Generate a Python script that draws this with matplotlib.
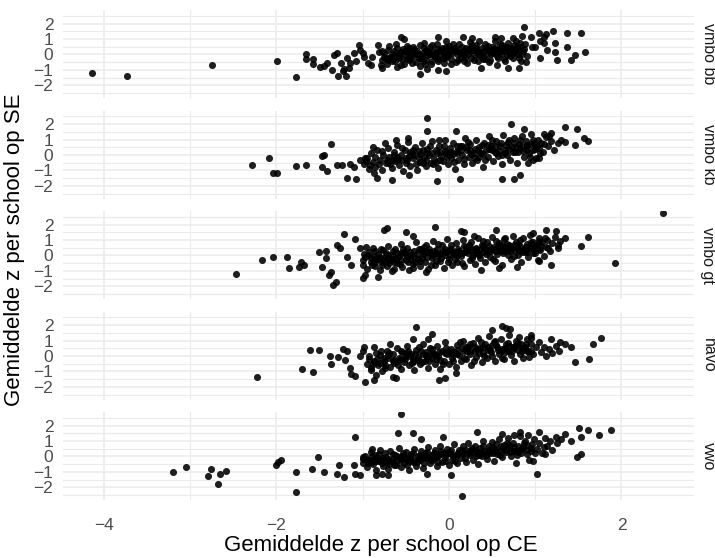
import matplotlib
matplotlib.use("Agg")
import matplotlib.pyplot as plt

plt.rcParams['font.family'] = ['Liberation Sans', 'DejaVu Sans']

facets = ['vmbo bb', 'vmbo kb', 'vmbo gt', 'havo', 'vwo']

# gemiddelde z per school: (CE, SE)
vmbo_bb = [
    (-4.13, -1.2), (-3.73, -1.41), (-2.74, -0.7), (-1.99, -0.42), (-1.77, -1.47),
    (-1.65, 0.0), (-1.65, -0.31), (-1.57, -0.31), (-1.57, -0.61), (-1.49, -0.83),
    (-1.45, -0.72), (-1.41, -0.57), (-1.35, -1.0), (-1.33, -0.03), (-1.3, 0.08),
    (-1.28, -1.39), (-1.25, -0.53), (-1.23, -1.04), (-1.21, -0.95), (-1.19, -1.39),
    (-1.18, -0.25), (-1.16, -0.89), (-1.14, -0.57), (-1.1, 0.08), (-1.08, -0.42),
    (-1.04, 0.6), (-1.03, 0.29), (-1.0, 0.08), (-0.98, -0.14), (-0.94, -0.57),
    (-0.9, -0.68), (-0.89, -0.14), (-0.82, 0.6), (-0.81, 0.18), (-0.79, -0.68),
    (-0.78, -0.89), (-0.75, -0.14), (-0.71, -0.36), (-0.67, -0.14), (-0.61, 0.7),
    (-0.6, -0.78), (-0.55, 1.13), (-0.52, 0.98), (-0.34, -1.26), (-0.29, 0.72),
    (-0.25, -0.97), (-0.13, -1.0), (-0.12, 1.14), (-0.03, 0.84), (-0.03, -1.07),
    (0.16, 1.14), (0.27, 1.04), (0.37, -0.89), (0.53, 1.14), (0.56, -0.68),
    (0.6, 1.04), (0.68, -0.89), (0.74, 1.04), (0.87, 1.79), (0.85, 1.21),
    (0.95, 1.14), (0.81, -0.89), (0.89, -0.46), (0.96, 0.5), (1.0, 0.5),
    (1.04, 1.37), (1.06, 0.84), (1.06, -0.25), (1.1, 1.14), (1.1, 0.72),
    (1.13, 1.31), (1.14, 0.29), (1.21, 1.5), (1.23, 0.72), (1.23, 0.18),
    (1.25, -0.36), (1.37, 1.4), (1.37, 0.5), (1.41, -0.36), (1.46, -0.03),
    (1.53, 1.4), (1.58, 0.18),
    (-0.78, -0.35), (-0.75, 0.1), (-0.72, -0.6), (-0.7, 0.3), (-0.68, -0.15),
    (-0.65, 0.05), (-0.62, -0.45), (-0.6, 0.4), (-0.58, -0.2), (-0.55, 0.15),
    (-0.52, -0.65), (-0.5, -0.05), (-0.48, 0.55), (-0.46, -0.35), (-0.44, 0.2),
    (-0.42, -0.1), (-0.4, 0.35), (-0.38, -0.5), (-0.36, 0.0), (-0.34, 0.6),
    (-0.32, -0.25), (-0.3, 0.1), (-0.28, -0.6), (-0.26, 0.3), (-0.24, -0.05),
    (-0.22, 0.5), (-0.2, -0.4), (-0.18, 0.15), (-0.16, -0.15), (-0.14, 0.7),
    (-0.12, -0.3), (-0.1, 0.05), (-0.08, 0.4), (-0.06, -0.55), (-0.04, 0.2),
    (-0.02, -0.1), (0.0, 0.55), (0.02, -0.3), (0.04, 0.1), (0.06, 0.35),
    (0.08, -0.5), (0.1, 0.0), (0.12, 0.65), (0.14, -0.2), (0.16, 0.25),
    (0.18, -0.4), (0.2, 0.45), (0.22, 0.05), (0.24, 0.8), (0.26, -0.25),
    (0.28, 0.3), (0.3, -0.05), (0.32, 0.6), (0.34, -0.45), (0.36, 0.15),
    (0.38, 0.4), (0.4, -0.15), (0.42, 0.7), (0.44, 0.05), (0.46, 0.3),
    (0.48, -0.35), (0.5, 0.5), (0.52, 0.15), (0.54, 0.85), (0.56, -0.1),
    (0.58, 0.35), (0.6, 0.0), (0.62, 0.6), (0.64, -0.3), (0.66, 0.25),
    (0.68, 0.75), (0.7, 0.1), (0.72, 0.45), (0.74, -0.2), (0.76, 0.3),
    (0.78, 0.9), (0.8, 0.05), (0.82, 0.5), (0.84, -0.4), (0.86, 0.2), (0.88, 0.65),
    (-0.77, 0.2), (-0.73, -0.25), (-0.69, 0.55), (-0.66, -0.4), (-0.63, 0.25),
    (-0.59, -0.05), (-0.56, -0.7), (-0.53, 0.35), (-0.49, -0.3), (-0.47, 0.1),
    (-0.43, -0.55), (-0.41, 0.5), (-0.37, 0.2), (-0.35, -0.2), (-0.33, -0.75),
    (-0.29, 0.45), (-0.27, -0.35), (-0.23, 0.15), (-0.21, -0.6), (-0.19, 0.6),
    (-0.15, 0.1), (-0.13, -0.45), (-0.09, 0.3), (-0.07, -0.2), (-0.03, 0.5),
    (-0.01, 0.0), (0.03, -0.6), (0.05, 0.7), (0.09, 0.2), (0.11, -0.35),
    (0.15, 0.5), (0.17, -0.05), (0.21, -0.55), (0.23, 0.35), (0.27, 0.6),
    (0.29, -0.35), (0.33, 0.2), (0.35, 0.9), (0.39, -0.3), (0.41, 0.25),
    (0.45, 0.55), (0.47, -0.5), (0.51, 0.1), (0.53, 0.4), (0.57, -0.25),
    (0.59, 0.7), (0.63, 0.2), (0.65, -0.45), (0.69, 0.45), (0.71, -0.1),
    (0.75, 0.6), (0.77, 0.15), (0.81, -0.2), (0.83, 0.75), (0.87, 0.35), (0.9, -0.1),
    (-0.57, 0.0), (-0.51, 0.25), (-0.45, -0.2), (-0.39, 0.1), (-0.31, -0.1),
    (-0.25, 0.15), (-0.17, -0.05), (-0.11, 0.25), (-0.05, -0.25), (0.01, 0.15),
    (0.07, 0.45), (0.13, 0.1), (0.19, -0.15), (0.25, 0.2), (0.31, 0.4),
    (0.37, -0.1), (0.43, 0.4), (0.49, 0.05), (0.55, 0.3), (0.61, 0.45),
    (0.67, -0.05), (0.73, 0.25), (0.79, 0.5), (0.85, 0.0), (-0.62, -0.2),
    (-0.54, -0.3), (-0.46, 0.4), (-0.38, 0.0), (-0.3, -0.4), (-0.22, 0.05),
    (-0.14, 0.35), (-0.06, 0.1), (0.02, 0.35), (0.1, 0.25), (0.18, 0.05),
    (0.26, 0.5), (0.34, 0.05), (0.42, -0.3), (0.5, 0.3), (0.58, 0.15),
    (0.66, 0.5), (0.74, 0.1), (0.82, 0.3),
]

vmbo_kb = [
    (-2.28, -0.63), (-2.08, -0.2), (-2.04, -1.15), (-1.99, -1.15), (-1.77, -0.74),
    (-1.65, -0.63), (-1.47, -0.09), (-1.45, 0.02), (-1.47, -0.8), (-1.41, -1.02),
    (-1.37, 0.72), (-1.29, -0.63), (-1.24, -0.63), (-1.18, -1.46), (-1.14, -0.59),
    (-1.1, -0.8), (-1.08, -1.54), (-1.03, -0.3), (-0.97, -0.2), (-0.88, 0.5),
    (-0.87, -1.17), (-0.83, -1.5), (-0.74, 0.78), (-0.66, -1.61), (-0.61, 1.0),
    (-0.47, 1.1), (-0.46, -1.33), (-0.25, 2.41), (-0.25, 1.54), (-0.14, -1.67),
    (-0.11, 1.0), (0.08, 1.54), (0.13, -1.54), (0.61, -1.54), (0.72, 1.98),
    (0.76, -1.54), (0.82, -1.28), (0.87, 1.65), (0.92, -0.52), (0.97, -0.3),
    (1.05, -0.2), (1.1, 1.33), (1.16, 1.22), (1.18, 1.43), (1.34, 1.8),
    (1.35, 0.85), (1.46, 0.67), (1.49, 1.65), (1.56, 1.11), (1.61, 0.93),
    (-0.98, -0.6), (-0.95, -0.2), (-0.93, -0.9), (-0.9, 0.1), (-0.88, -0.45),
    (-0.85, -0.75), (-0.83, 0.3), (-0.8, -0.3), (-0.78, -1.0), (-0.76, 0.0),
    (-0.73, -0.55), (-0.71, 0.45), (-0.69, -0.15), (-0.66, -0.85), (-0.64, 0.2),
    (-0.62, -0.4), (-0.6, 0.65), (-0.58, -0.65), (-0.55, 0.0), (-0.53, -1.05),
    (-0.51, 0.35), (-0.49, -0.3), (-0.47, 0.85), (-0.45, -0.7), (-0.43, 0.1),
    (-0.41, -0.2), (-0.39, 0.5), (-0.37, -0.95), (-0.35, 0.25), (-0.33, -0.45),
    (-0.31, 0.75), (-0.29, -0.1), (-0.27, -0.7), (-0.25, 0.4), (-0.23, 0.0),
    (-0.21, -0.5), (-0.19, 0.9), (-0.17, -0.25), (-0.15, 0.3), (-0.13, -0.85),
    (-0.11, 0.55), (-0.09, -0.05), (-0.07, -0.4), (-0.05, 1.0), (-0.03, 0.15),
    (-0.01, -0.6), (0.01, 0.45), (0.03, -0.2), (0.05, 0.8), (0.07, -0.9),
    (0.09, 0.25), (0.11, -0.35), (0.13, 0.6), (0.15, 0.0), (0.17, -0.6),
    (0.19, 1.1), (0.21, 0.35), (0.23, -0.15), (0.25, 0.7), (0.27, -0.5),
    (0.29, 0.1), (0.31, 0.95), (0.33, -0.3), (0.35, 0.5), (0.37, 0.15),
    (0.39, -0.75), (0.41, 0.8), (0.43, 0.3), (0.45, -0.1), (0.47, 1.2),
    (0.49, 0.55), (0.51, -0.4), (0.53, 0.2), (0.55, 0.9), (0.57, -0.05),
    (0.59, 0.6), (0.61, -0.6), (0.63, 1.3), (0.65, 0.35), (0.67, 0.0),
    (0.69, 0.85), (0.71, -0.3), (0.73, 0.5), (0.75, 1.1), (0.77, 0.2),
    (0.79, -0.5), (0.81, 0.7), (0.83, 0.4), (0.85, 1.25), (0.87, -0.1),
    (0.89, 0.9), (0.91, 0.55), (0.93, 0.1), (0.95, 1.35), (0.97, 0.3),
    (0.99, 0.75), (1.01, -0.2), (1.03, 1.0), (1.05, 0.45), (1.07, 0.8),
    (1.09, 0.2), (1.12, 1.15), (1.15, 0.6), (1.18, 0.9), (1.22, 0.35),
    (1.26, 0.75), (1.3, 1.0),
    (-0.96, -0.4), (-0.91, -0.65), (-0.86, -0.1), (-0.81, -0.6), (-0.77, 0.25),
    (-0.72, -0.3), (-0.68, -0.6), (-0.63, 0.0), (-0.59, -0.25), (-0.54, 0.45),
    (-0.5, -0.5), (-0.46, -0.05), (-0.42, 0.3), (-0.38, -0.6), (-0.34, 0.05),
    (-0.3, 0.35), (-0.26, -0.3), (-0.22, 0.6), (-0.18, -0.6), (-0.14, 0.1),
    (-0.1, -0.3), (-0.06, 0.6), (-0.02, -0.15), (0.02, 0.2), (0.06, -0.45),
    (0.1, 0.55), (0.14, 0.3), (0.18, -0.25), (0.22, 0.85), (0.26, 0.05),
    (0.3, -0.2), (0.34, 0.3), (0.38, 0.65), (0.42, -0.35), (0.46, 0.4),
    (0.5, 0.95), (0.54, 0.55), (0.58, 0.25), (0.62, 0.0), (0.66, 0.65),
    (0.7, 1.0), (0.74, 0.2), (0.78, 0.5), (0.82, 1.0), (0.86, 0.25),
    (0.9, 0.65), (0.94, -0.15), (0.98, 1.0), (1.02, 0.6), (1.06, 0.1), (1.1, 0.7),
    (-0.7, -0.45), (-0.6, -0.1), (-0.5, -0.2), (-0.4, 0.0), (-0.3, -0.5),
    (-0.2, 0.1), (-0.1, 0.2), (0.0, 0.0), (0.1, 0.1), (0.2, 0.5),
    (0.3, 0.4), (0.4, 0.05), (0.5, 0.3), (0.6, 0.8), (0.7, 0.4),
    (0.8, 0.2), (0.9, 0.35), (1.0, 0.4), (-0.65, -0.3), (-0.55, -0.35),
    (-0.45, 0.2), (-0.35, -0.2), (-0.25, 0.15), (-0.15, -0.45), (-0.05, 0.25),
    (0.05, 0.05), (0.15, 0.6), (0.25, 0.3), (0.35, -0.1), (0.45, 0.65),
    (0.55, 0.1), (0.65, 0.15), (0.75, 0.75), (0.85, 0.6), (0.95, 0.7),
]

vmbo_gt = [
    (2.48, 2.72), (-2.47, -1.22), (-2.17, -0.28), (-2.04, -0.07), (-1.87, -0.07),
    (-1.85, -0.83), (-1.74, -0.72), (-1.71, -0.43), (-1.68, -0.61), (-1.51, 0.2),
    (-1.47, -0.72), (-1.42, -0.17), (-1.42, 0.3), (-1.39, -1.26), (-1.36, -1.04),
    (-1.34, -1.91), (-1.31, -1.74), (-1.29, 0.7), (-1.26, 0.48), (-1.21, 1.39),
    (-1.18, -0.07), (-1.13, -0.61), (-1.09, 1.09), (-1.03, 0.48), (-1.0, -1.48),
    (-0.98, 0.09), (-0.97, -1.26), (-0.82, -1.37), (-0.75, 1.67), (-0.72, 1.78),
    (-0.66, -1.0), (-0.5, 1.52), (-0.42, 1.24), (-0.26, -1.04), (-0.16, 1.85),
    (0.14, 1.57), (0.18, 1.52), (0.29, 1.24), (0.37, -0.93), (0.55, 1.67),
    (0.58, -0.83), (0.65, 1.13), (0.79, -0.72), (0.97, 1.46), (1.05, -0.39),
    (1.13, 1.67), (1.18, -0.61), (1.24, 1.61), (1.26, 0.7), (1.34, 1.13),
    (1.53, 0.59), (1.61, 1.17), (1.93, -0.5),
    (-1.0, -0.6), (-0.97, -0.1), (-0.95, -0.85), (-0.92, 0.2), (-0.9, -0.4),
    (-0.88, 0.5), (-0.86, -0.7), (-0.84, -0.2), (-0.82, 0.1), (-0.8, -0.95),
    (-0.78, -0.45), (-0.76, 0.35), (-0.74, -0.1), (-0.72, -0.7), (-0.7, 0.6),
    (-0.68, -0.3), (-0.66, 0.05), (-0.64, -0.9), (-0.62, 0.4), (-0.6, -0.5),
    (-0.58, -0.05), (-0.56, 0.75), (-0.54, -0.75), (-0.52, 0.2), (-0.5, -0.3),
    (-0.48, 0.5), (-0.46, -0.95), (-0.44, 0.0), (-0.42, -0.55), (-0.4, 0.3),
    (-0.38, 0.85), (-0.36, -0.2), (-0.34, -0.7), (-0.32, 0.45), (-0.3, 0.1),
    (-0.28, -0.45), (-0.26, 0.7), (-0.24, -0.9), (-0.22, 0.25), (-0.2, -0.15),
    (-0.18, 0.95), (-0.16, -0.6), (-0.14, 0.4), (-0.12, 0.0), (-0.1, -0.35),
    (-0.08, 0.65), (-0.06, -0.8), (-0.04, 0.2), (-0.02, 1.05), (0.0, -0.2),
    (0.02, 0.45), (0.04, -0.6), (0.06, 0.1), (0.08, 0.8), (0.1, -0.4),
    (0.12, 0.3), (0.14, -0.05), (0.16, 1.0), (0.18, -0.7), (0.2, 0.55),
    (0.22, 0.15), (0.24, -0.3), (0.26, 0.85), (0.28, 0.0), (0.3, -0.55),
    (0.32, 0.4), (0.34, 1.1), (0.36, -0.15), (0.38, 0.65), (0.4, 0.2),
    (0.42, -0.45), (0.44, 0.9), (0.46, 0.35), (0.48, -0.1), (0.5, 1.2),
    (0.52, 0.55), (0.54, -0.35), (0.56, 0.1), (0.58, 0.8), (0.6, 0.3),
    (0.62, -0.6), (0.64, 1.05), (0.66, 0.45), (0.68, 0.0), (0.7, 0.7),
    (0.72, -0.25), (0.74, 1.25), (0.76, 0.35), (0.78, 0.85), (0.8, 0.05),
    (0.82, 0.6), (0.84, -0.4), (0.86, 1.1), (0.88, 0.25), (0.9, 0.75),
    (0.92, -0.1), (0.94, 1.3), (0.96, 0.5), (0.98, 0.9), (1.0, 0.15),
    (1.02, 0.65), (1.04, 1.15), (1.06, 0.35), (1.08, 0.85), (1.1, -0.05),
    (1.12, 0.55), (1.14, 1.0), (1.17, 0.3), (1.2, 0.8), (1.23, 1.2),
    (1.26, 0.5), (1.29, 0.95),
    (-0.99, -0.3), (-0.94, 0.0), (-0.89, -0.6), (-0.85, 0.3), (-0.81, -0.25),
    (-0.77, -0.6), (-0.73, 0.15), (-0.69, -0.5), (-0.65, 0.3), (-0.61, -0.2),
    (-0.57, -0.55), (-0.53, 0.45), (-0.49, -0.1), (-0.45, 0.25), (-0.41, -0.8),
    (-0.37, 0.1), (-0.33, -0.35), (-0.29, 0.55), (-0.25, -0.1), (-0.21, -0.6),
    (-0.17, 0.3), (-0.13, 0.75), (-0.09, -0.15), (-0.05, 0.4), (-0.01, -0.45),
    (0.03, 0.7), (0.07, -0.2), (0.11, 0.45), (0.15, -0.5), (0.19, 0.25),
    (0.23, 0.7), (0.27, -0.15), (0.31, 0.5), (0.35, 0.0), (0.39, 0.95),
    (0.43, 0.1), (0.47, 0.6), (0.51, -0.2), (0.55, 0.95), (0.59, 0.4),
    (0.63, 0.15), (0.67, 0.75), (0.71, 0.3), (0.75, -0.05), (0.79, 0.5),
    (0.83, 1.0), (0.87, 0.45), (0.91, 0.2), (0.95, 0.85), (0.99, 0.4),
    (1.03, -0.3), (1.07, 0.6), (1.11, 1.1), (1.15, 0.5),
    (-0.96, 0.55), (-0.87, -0.05), (-0.79, 0.45), (-0.71, -0.25), (-0.63, -0.45),
    (-0.55, 0.15), (-0.47, -0.45), (-0.39, -0.4), (-0.31, -0.15), (-0.23, 0.45),
    (-0.15, 0.15), (-0.07, 0.3), (0.01, 0.0), (0.09, 0.2), (0.17, 0.6),
    (0.25, 0.35), (0.33, 0.15), (0.41, 0.5), (0.49, 0.3), (0.57, 0.55),
    (0.65, 0.6), (0.73, 0.5), (0.81, 0.3), (0.89, 0.55), (0.97, 0.15), (1.05, 0.95),
    (-0.9, -0.15), (-0.8, -0.1), (-0.7, 0.0), (-0.6, 0.15), (-0.5, 0.05),
    (-0.4, -0.1), (-0.3, 0.3), (-0.2, 0.05), (-0.1, 0.1), (0.0, 0.35),
    (0.1, 0.0), (0.2, 0.3), (0.3, 0.2), (0.4, 0.6), (0.5, 0.45),
    (0.6, 0.65), (0.7, 0.45), (0.8, 0.75), (0.9, 0.4), (1.0, 0.6),
    (-0.85, -0.45), (-0.75, -0.3), (-0.65, -0.2), (-0.55, -0.3), (-0.45, -0.25),
    (-0.35, 0.4), (-0.25, 0.2), (-0.15, -0.35), (-0.05, 0.0), (0.05, 0.25),
    (0.15, 0.15), (0.25, 0.55), (0.35, 0.35), (0.45, 0.2), (0.55, 0.3),
    (0.65, 0.3), (0.75, 0.7), (0.85, 0.2), (0.95, 0.65), (1.05, 0.45),
]

havo = [
    (-2.22, -1.38), (-1.7, -0.86), (-1.57, -1.07), (-1.61, 0.37), (-1.51, 0.39),
    (-1.38, -0.02), (-1.36, -0.5), (-1.28, -0.09), (-1.23, 0.42), (-1.18, 0.31),
    (-1.2, -0.24), (-1.14, -0.79), (-1.13, -1.18), (-1.09, -1.27), (-1.03, -0.02),
    (-0.99, 0.35), (-0.98, 0.57), (-0.97, -1.67), (-0.9, -0.9), (-0.87, 0.57),
    (-0.87, -1.56), (-0.84, -1.23), (-0.74, -0.79), (-0.68, 0.79), (-0.65, -1.34),
    (-0.61, -1.45), (-0.42, 1.07), (-0.38, 1.89), (-0.24, 1.07), (-0.19, 1.45),
    (-0.11, -1.56), (-0.05, -1.4), (0.08, -1.12), (0.5, 1.67), (0.61, 1.95),
    (0.66, 1.8), (0.71, 1.73), (0.95, 1.36), (0.95, 1.18), (1.18, 1.07),
    (1.29, 0.92), (1.34, 0.79), (1.42, 0.57), (1.46, -0.39), (1.62, -0.18),
    (1.67, 0.79), (1.76, 1.18),
    (-0.95, -0.5), (-0.92, 0.0), (-0.9, -0.8), (-0.87, -0.3), (-0.84, 0.2),
    (-0.82, -0.6), (-0.8, 0.05), (-0.77, -0.95), (-0.75, -0.35), (-0.72, 0.35),
    (-0.7, -0.15), (-0.68, -0.7), (-0.65, 0.1), (-0.63, -0.45), (-0.6, 0.5),
    (-0.58, -0.1), (-0.56, -0.85), (-0.54, 0.25), (-0.52, -0.4), (-0.5, 0.0),
    (-0.48, 0.65), (-0.46, -0.6), (-0.44, 0.15), (-0.42, -0.25), (-0.4, -0.9),
    (-0.38, 0.4), (-0.36, -0.05), (-0.34, -0.55), (-0.32, 0.3), (-0.3, 0.8),
    (-0.28, -0.3), (-0.26, 0.05), (-0.24, -0.75), (-0.22, 0.5), (-0.2, -0.15),
    (-0.18, 0.2), (-0.16, -0.5), (-0.14, 0.65), (-0.12, 0.0), (-0.1, -0.85),
    (-0.08, 0.35), (-0.06, -0.3), (-0.04, 0.9), (-0.02, 0.1), (0.0, -0.55),
    (0.02, 0.45), (0.04, -0.1), (0.06, 0.25), (0.08, -0.7), (0.1, 0.7),
    (0.12, 0.05), (0.14, -0.35), (0.16, 1.0), (0.18, 0.3), (0.2, -0.2),
    (0.22, 0.55), (0.24, 0.1), (0.26, -0.6), (0.28, 0.85), (0.3, 0.35),
    (0.32, -0.05), (0.34, 1.15), (0.36, 0.5), (0.38, -0.4), (0.4, 0.2),
    (0.42, 0.75), (0.44, -0.15), (0.46, 1.3), (0.48, 0.4), (0.5, 0.0),
    (0.52, 0.9), (0.54, -0.3), (0.56, 0.6), (0.58, 0.15), (0.6, 1.1),
    (0.62, 0.45), (0.64, -0.2), (0.66, 0.8), (0.68, 0.3), (0.7, 1.35),
    (0.72, 0.05), (0.74, 0.6), (0.76, -0.35), (0.78, 0.95), (0.8, 0.4),
    (0.82, 0.15), (0.84, 0.75), (0.86, -0.1), (0.88, 0.55), (0.9, 1.1),
    (0.92, 0.3), (0.95, 0.8), (0.98, 0.1), (1.01, 0.55), (1.04, 0.9),
    (1.07, 0.25), (1.1, 0.6), (1.13, 0.0), (1.16, 0.45), (1.2, 0.2),
    (1.24, 0.65), (1.28, 0.3),
    (-0.93, -0.2), (-0.88, -0.55), (-0.83, -0.2), (-0.79, 0.35), (-0.74, -0.6),
    (-0.69, 0.2), (-0.64, -0.25), (-0.59, -0.6), (-0.55, 0.3), (-0.51, -0.2),
    (-0.47, 0.3), (-0.43, -0.45), (-0.39, 0.1), (-0.35, 0.55), (-0.31, -0.4),
    (-0.27, 0.25), (-0.23, -0.35), (-0.19, 0.45), (-0.15, -0.2), (-0.11, 0.25),
    (-0.07, -0.55), (-0.03, 0.5), (0.01, 0.2), (0.05, -0.3), (0.09, 0.4),
    (0.13, 0.9), (0.17, -0.1), (0.21, 0.3), (0.25, 0.75), (0.29, -0.35),
    (0.33, 0.45), (0.37, 0.9), (0.41, 0.0), (0.45, 0.6), (0.49, 0.25),
    (0.53, 1.0), (0.57, 0.4), (0.61, -0.1), (0.65, 0.5), (0.69, 0.85),
    (0.73, 0.35), (0.77, 0.65), (0.81, 1.2), (0.85, 0.35), (0.89, 0.75), (0.93, -0.05),
    (-0.85, -0.4), (-0.75, -0.15), (-0.65, -0.35), (-0.55, -0.2), (-0.45, 0.0),
    (-0.35, -0.25), (-0.25, -0.1), (-0.15, 0.05), (-0.05, 0.2), (0.05, 0.1),
    (0.15, 0.5), (0.25, 0.3), (0.35, 0.2), (0.45, 0.4), (0.55, 0.7),
    (0.65, 0.25), (0.75, 0.5), (0.85, 0.5), (0.95, 0.35), (-0.8, -0.45),
    (-0.7, 0.05), (-0.6, -0.3), (-0.5, 0.2), (-0.4, -0.35), (-0.3, 0.1),
    (-0.2, 0.15), (-0.1, -0.25), (0.0, 0.3), (0.1, 0.15), (0.2, 0.6),
    (0.3, 0.55), (0.4, 0.55), (0.5, 0.7), (0.6, 0.3), (0.7, 0.65),
    (0.8, 0.85), (0.9, 0.3),
]

vwo = [
    (-3.19, -1.02), (-3.05, -0.69), (-2.79, -1.24), (-2.75, -0.8), (-2.67, -1.8),
    (-2.65, -1.13), (-2.58, -0.91), (-2.0, -0.53), (-1.98, -0.36), (-1.95, -0.2),
    (-1.77, -1.02), (-1.77, -2.31), (-1.59, -0.82), (-1.52, -0.02), (-1.45, -1.02),
    (-1.29, -1.13), (-1.27, -0.53), (-1.21, -1.31), (-1.1, -0.53), (-1.09, 1.29),
    (-1.09, -1.16), (-1.03, -1.2), (-1.0, -0.02), (-0.89, 0.47), (-0.84, -1.2),
    (-0.77, -1.16), (-0.7, -1.2), (-0.59, 1.51), (-0.55, 2.76), (-0.42, 1.51),
    (-0.32, 1.13), (-0.25, -1.16), (-0.07, 1.24), (0.02, -1.2), (0.15, -2.58),
    (0.33, 1.58), (0.61, 1.47), (0.76, 1.36), (0.82, 1.58), (0.92, 1.36),
    (0.97, -0.31), (1.02, -1.13), (1.05, 1.58), (1.11, 0.13), (1.24, 1.24),
    (1.34, 1.47), (1.41, 0.98), (1.49, -0.02), (1.51, 1.87), (1.53, 0.13),
    (1.53, 1.24), (1.61, 1.69), (1.74, 1.36), (1.88, 1.69),
    (-1.0, -0.4), (-0.97, 0.0), (-0.95, -0.7), (-0.92, -0.2), (-0.9, 0.3),
    (-0.88, -0.5), (-0.86, 0.1), (-0.84, -0.85), (-0.82, -0.3), (-0.8, 0.45),
    (-0.78, -0.1), (-0.76, -0.6), (-0.74, 0.2), (-0.72, -0.35), (-0.7, -0.8),
    (-0.68, 0.35), (-0.66, -0.15), (-0.64, -0.55), (-0.62, 0.1), (-0.6, -0.3),
    (-0.58, 0.55), (-0.56, -0.7), (-0.54, 0.0), (-0.52, -0.45), (-0.5, 0.3),
    (-0.48, -0.15), (-0.46, -0.85), (-0.44, 0.15), (-0.42, -0.35), (-0.4, 0.5),
    (-0.38, -0.6), (-0.36, 0.05), (-0.34, -0.25), (-0.32, 0.35), (-0.3, -0.75),
    (-0.28, 0.2), (-0.26, -0.1), (-0.24, 0.6), (-0.22, -0.45), (-0.2, 0.1),
    (-0.18, -0.2), (-0.16, 0.4), (-0.14, -0.65), (-0.12, 0.0), (-0.1, 0.7),
    (-0.08, -0.35), (-0.06, 0.25), (-0.04, -0.1), (-0.02, 0.5), (0.0, -0.55),
    (0.02, 0.15), (0.04, -0.25), (0.06, 0.8), (0.08, 0.05), (0.1, -0.45),
    (0.12, 0.4), (0.14, -0.1), (0.16, 0.65), (0.18, 0.2), (0.2, -0.35),
    (0.22, 0.9), (0.24, 0.1), (0.26, 0.45), (0.28, -0.2), (0.3, 0.7),
    (0.32, 0.25), (0.34, -0.5), (0.36, 0.55), (0.38, 0.0), (0.4, 1.0),
    (0.42, 0.35), (0.44, -0.15), (0.46, 0.7), (0.48, 0.2), (0.5, 0.95),
    (0.52, -0.3), (0.54, 0.5), (0.56, 0.15), (0.58, 1.1), (0.6, 0.4),
    (0.62, -0.05), (0.64, 0.75), (0.66, 0.3), (0.68, 1.2), (0.7, 0.55),
    (0.72, 0.0), (0.74, 0.9), (0.76, 0.35), (0.78, -0.4), (0.8, 0.7),
    (0.82, 1.3), (0.84, 0.2), (0.86, 0.6), (0.88, 1.0), (0.9, 0.4),
    (0.93, -0.2), (0.96, 0.8), (0.99, 1.15), (1.02, 0.5), (1.05, 0.9),
    (1.08, 0.25), (1.11, 1.2), (1.14, 0.7), (1.17, 1.0), (1.2, 0.45),
    (1.25, 0.85), (1.3, 1.1),
    (-0.99, -0.15), (-0.94, -0.45), (-0.89, 0.05), (-0.85, -0.3), (-0.81, 0.15),
    (-0.77, -0.4), (-0.73, -0.05), (-0.69, -0.5), (-0.65, 0.15), (-0.61, -0.55),
    (-0.57, -0.1), (-0.53, 0.25), (-0.49, -0.55), (-0.45, -0.05), (-0.41, 0.25),
    (-0.37, -0.35), (-0.33, 0.1), (-0.29, -0.45), (-0.25, 0.3), (-0.21, -0.2),
    (-0.17, 0.2), (-0.13, -0.35), (-0.09, 0.35), (-0.05, -0.3), (-0.01, 0.2),
    (0.03, 0.45), (0.07, -0.3), (0.11, 0.2), (0.15, 0.45), (0.19, -0.1),
    (0.23, 0.3), (0.27, 0.55), (0.31, 0.05), (0.35, 0.3), (0.39, 0.65),
    (0.43, 0.1), (0.47, 0.45), (0.51, 0.25), (0.55, 0.8), (0.59, 0.1),
    (0.63, 0.55), (0.67, 0.85), (0.71, 0.3), (0.75, 0.6), (0.79, 0.1),
    (0.83, 0.45), (0.87, 0.85), (0.91, 0.15), (0.95, 0.55),
    (-0.95, -0.25), (-0.85, -0.1), (-0.75, -0.25), (-0.65, -0.35), (-0.55, -0.25),
    (-0.45, -0.3), (-0.35, -0.1), (-0.25, -0.05), (-0.15, -0.05), (-0.05, 0.1),
    (0.05, 0.0), (0.15, 0.25), (0.25, 0.2), (0.35, 0.1), (0.45, 0.3),
    (0.55, 0.35), (0.65, 0.45), (0.75, 0.35), (0.85, 0.5), (0.95, 0.35),
    (-0.9, -0.35), (-0.8, -0.2), (-0.7, -0.15), (-0.6, 0.0), (-0.5, -0.1),
    (-0.4, -0.2), (-0.3, 0.0), (-0.2, -0.1), (-0.1, 0.15), (0.0, 0.3),
    (0.1, 0.15), (0.2, 0.4), (0.3, 0.4), (0.4, 0.2), (0.5, 0.6),
    (0.6, 0.7), (0.7, 0.75), (0.8, 0.3), (0.9, 0.75), (1.0, 0.2), (1.1, 0.6),
]

groups = [vmbo_bb, vmbo_kb, vmbo_gt, havo, vwo]

W, H = 715, 558
fig = plt.figure(figsize=(W / 100, H / 100), dpi=100)

left, right = 63, 694
top0, pitch, ph = 10, 100.5, 88
grid_col = '#EBEBEB'

for i, (name, pts) in enumerate(zip(facets, groups)):
    top = top0 + i * pitch
    ax = fig.add_axes([left / W, 1 - (top + ph) / H, (right - left) / W, ph / H])
    xs = [p[0] for p in pts]
    ys = [p[1] for p in pts]
    ax.scatter(xs, ys, s=26, c='black', alpha=0.88, linewidths=0, zorder=3)

    ax.set_xlim(-4.47, 2.84)
    ax.set_ylim(-2.82, 2.88)
    ax.set_xticks([-4, -2, 0, 2])
    ax.set_xticks([-3, -1, 1], minor=True)
    ax.set_yticks([-2, -1, 0, 1, 2])
    ax.set_yticks([-2.5, -1.5, -0.5, 0.5, 1.5, 2.5], minor=True)
    ax.grid(which='major', color=grid_col, linewidth=1.1, zorder=0)
    ax.grid(which='minor', color=grid_col, linewidth=0.8, zorder=0)
    ax.set_axisbelow(True)
    for s in ax.spines.values():
        s.set_visible(False)
    ax.tick_params(which='both', length=0, labelsize=12.5, labelcolor='#4D4D4D')
    ax.tick_params(axis='y', pad=7)
    ax.tick_params(axis='x', pad=13)
    if i < len(facets) - 1:
        ax.tick_params(axis='x', labelbottom=False)

    ax.text(1 + 14 / (right - left), 0.5, name, transform=ax.transAxes,
            rotation=-90, ha='center', va='center', fontsize=11.5, color='#1A1A1A')

fig.text(381 / W, 1 - 545 / H, 'Gemiddelde z per school op CE',
         ha='center', va='center', fontsize=16, color='black')
fig.text(15 / W, 1 - 250 / H, 'Gemiddelde z per school op SE',
         ha='center', va='center', rotation=90, fontsize=16, color='black')

fig.savefig('out.png', dpi=100)
